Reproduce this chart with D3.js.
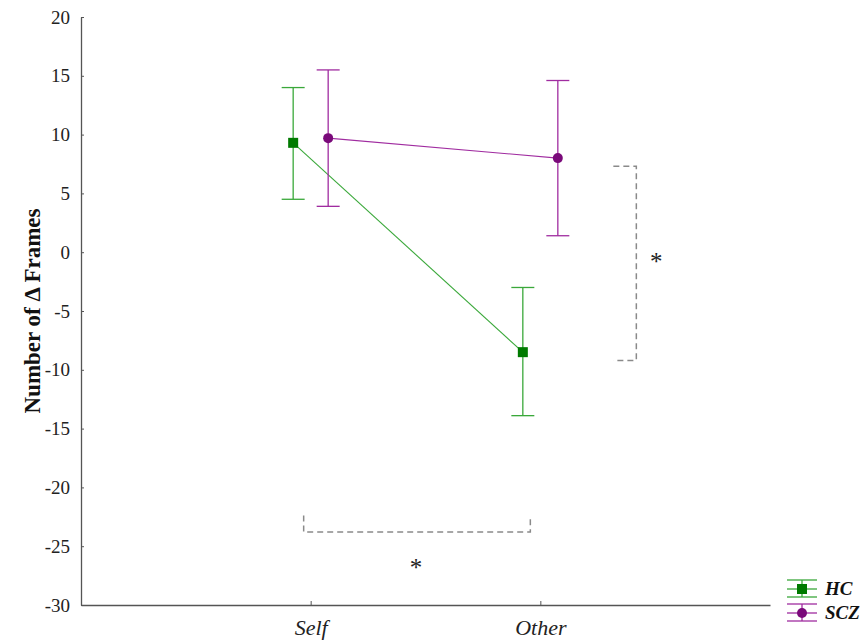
<!DOCTYPE html>
<html>
<head>
<meta charset="utf-8">
<script src="https://cdn.jsdelivr.net/npm/d3@7"></script>
<style>
  html, body { margin: 0; padding: 0; background: #fff; }
  svg { display: block; }
</style>
</head>
<body>
<svg id="chart" width="861" height="641"></svg>
<script>
// Conditions on the x axis and the two groups
const conditions = ["Self", "Other"];
const groups = ["HC", "SCZ"];

// Group means with upper / lower error-bar limits per condition
const hcMean  = [9.3, -8.5];
const hcUpper = [14.0, -3.0];
const hcLower = [4.5, -13.9];

const sczMean  = [9.7, 8.0];
const sczUpper = [15.5, 14.6];
const sczLower = [3.9, 1.4];

// Y axis ticks
const yTicks = [-30, -25, -20, -15, -10, -5, 0, 5, 10, 15, 20];

// Significance brackets (value limits)
const groupBracket = [7.3, -9.2];   // HC vs SCZ within Other
const condBracket = [-23.8, -22.4]; // Self vs Other within HC (line level, stub top)

const svg = d3.select("#chart");
const plotLeft = 81, plotRight = 770, plotTop = 17, plotBottom = 605;

const x = d3.scalePoint().domain(conditions).range([plotLeft, plotRight]).padding(1);
const y = d3.scaleLinear().domain([-30, 20]).range([plotBottom, plotTop]);

const axisColor = "#555";
const serif = "'Liberation Serif', 'Times New Roman', serif";

// Axes
const yAxis = svg.append("g")
  .attr("transform", `translate(${plotLeft},0)`)
  .call(d3.axisLeft(y).tickValues(yTicks).tickFormat(d => String(d))
    .tickSize(-3).tickPadding(11).tickSizeOuter(0));
yAxis.select(".domain").attr("stroke", axisColor).attr("stroke-width", 1.3);
yAxis.selectAll(".tick line").attr("stroke", axisColor);
yAxis.selectAll(".tick text")
  .attr("font-family", serif).attr("font-size", 19).attr("fill", "#222");

const xAxis = svg.append("g")
  .attr("transform", `translate(0,${plotBottom})`)
  .call(d3.axisBottom(x).tickSize(-4).tickPadding(11).tickSizeOuter(0));
xAxis.select(".domain").attr("stroke", axisColor).attr("stroke-width", 1.3);
xAxis.selectAll(".tick line").attr("stroke", axisColor);
xAxis.selectAll(".tick text")
  .attr("font-family", serif).attr("font-size", 22).attr("font-style", "italic")
  .attr("fill", "#222").attr("dy", "0.85em");

// Y title
svg.append("text")
  .attr("transform", `translate(40,${(plotTop + plotBottom) / 2}) rotate(-90)`)
  .attr("text-anchor", "middle")
  .attr("font-family", serif).attr("font-size", 23).attr("font-weight", "bold")
  .attr("fill", "#111")
  .text("Number of Δ Frames");

// Series definitions
const series = [
  { name: groups[0], mean: hcMean, upper: hcUpper, lower: hcLower, offset: -17.5,
    line: "#3aa83a", marker: "#007a00", shape: "square" },
  { name: groups[1], mean: sczMean, upper: sczUpper, lower: sczLower, offset: 17.5,
    line: "#a02ca0", marker: "#7a0a7a", shape: "circle" }
];

const capW = 11.5;

series.forEach(s => {
  const g = svg.append("g");
  const pts = conditions.map((c, i) => ({
    cx: x(c) + s.offset, m: s.mean[i], hi: s.upper[i], lo: s.lower[i]
  }));
  // connecting line
  g.append("path")
    .attr("d", d3.line().x(d => d.cx).y(d => y(d.m))(pts))
    .attr("fill", "none").attr("stroke", s.line).attr("stroke-width", 1.1);
  // error bars
  pts.forEach(d => {
    g.append("line").attr("x1", d.cx).attr("x2", d.cx)
      .attr("y1", y(d.hi)).attr("y2", y(d.lo))
      .attr("stroke", s.line).attr("stroke-width", 1.3);
    [d.hi, d.lo].forEach(v => {
      g.append("line").attr("x1", d.cx - capW).attr("x2", d.cx + capW)
        .attr("y1", y(v)).attr("y2", y(v))
        .attr("stroke", s.line).attr("stroke-width", 1.3);
    });
    if (s.shape === "square") {
      g.append("rect").attr("x", d.cx - 5).attr("y", y(d.m) - 5)
        .attr("width", 10).attr("height", 10).attr("fill", s.marker);
    } else {
      g.append("circle").attr("cx", d.cx).attr("cy", y(d.m)).attr("r", 5)
        .attr("fill", s.marker);
    }
  });
});

// Significance brackets
const dashColor = "#8a8a8a";
const bx = x("Other") + 96;
svg.append("path")
  .attr("d", `M${bx - 23},${y(groupBracket[0])} H${bx} V${y(groupBracket[1])} H${bx - 23}`)
  .attr("fill", "none").attr("stroke", dashColor).attr("stroke-width", 1.5)
  .attr("stroke-dasharray", "6,4");
svg.append("text")
  .attr("x", bx + 20).attr("y", y((groupBracket[0] + groupBracket[1]) / 2) + 7)
  .attr("text-anchor", "middle").attr("font-family", serif).attr("font-size", 25)
  .attr("fill", "#222").text("*");

const lx = x("Self") - 7, rx = x("Other") - 10;
svg.append("path")
  .attr("d", `M${lx},${y(condBracket[1])} V${y(condBracket[0])} H${rx} V${y(condBracket[1])}`)
  .attr("fill", "none").attr("stroke", dashColor).attr("stroke-width", 1.5)
  .attr("stroke-dasharray", "6,4");
svg.append("text")
  .attr("x", (lx + rx) / 2 - 1).attr("y", 576)
  .attr("text-anchor", "middle").attr("font-family", serif).attr("font-size", 25)
  .attr("fill", "#222").text("*");

// Legend
const legend = svg.append("g").attr("transform", "translate(802,589)");
series.forEach((s, i) => {
  const g = legend.append("g").attr("transform", `translate(0,${i * 24})`);
  [-9, 0, 8].forEach(dy => {
    g.append("line").attr("x1", -15).attr("x2", 15).attr("y1", dy).attr("y2", dy)
      .attr("stroke", s.line).attr("stroke-width", 1.3);
  });
  g.append("line").attr("x1", 0).attr("x2", 0).attr("y1", -9).attr("y2", 8)
    .attr("stroke", s.line).attr("stroke-width", 1.3);
  if (s.shape === "square") {
    g.append("rect").attr("x", -5).attr("y", -5).attr("width", 10).attr("height", 10)
      .attr("fill", s.marker);
  } else {
    g.append("circle").attr("r", 5).attr("fill", s.marker);
  }
  g.append("text").attr("x", 23).attr("y", 6)
    .attr("font-family", serif).attr("font-size", 19).attr("font-weight", "bold")
    .attr("font-style", "italic").attr("fill", "#111").text(s.name);
});
</script>
</body>
</html>
